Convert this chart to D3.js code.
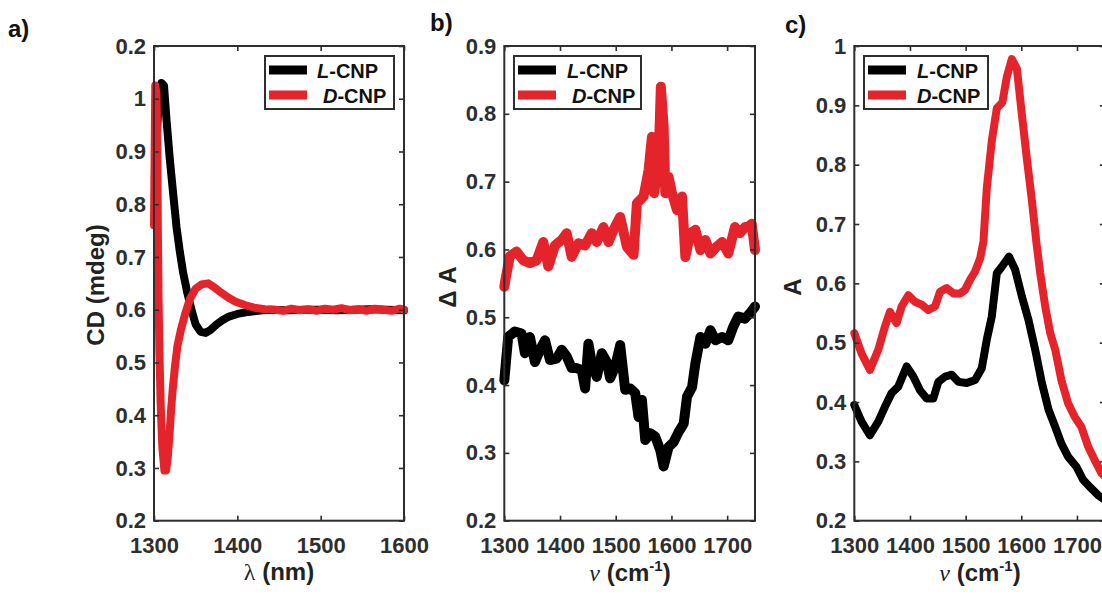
<!DOCTYPE html>
<html><head><meta charset="utf-8">
<script src="https://cdn.jsdelivr.net/npm/d3@7"></script>
<style>
body{margin:0;background:#fff;}
svg{display:block;font-family:"Liberation Sans",Arial,sans-serif;font-weight:bold;}
</style></head>
<body>
<svg id="chart" width="1102" height="595"></svg>
<script>
// ---------- Panel a data (CD) ----------
const aLx = [1301,1305,1309,1312,1315,1319,1323,1327,1331,1335,1340,1345,1350,1356,1362,1368,1375,1382,1390,1400,1410,1420,1430,1440,1460,1480,1500,1520,1540,1560,1580,1600];
const aLy = [0.85,0.98,1.03,1.025,0.96,0.885,0.82,0.757,0.71,0.67,0.632,0.6,0.572,0.558,0.556,0.562,0.572,0.58,0.587,0.592,0.595,0.597,0.599,0.6,0.599,0.6,0.6,0.599,0.6,0.601,0.6,0.599];
const aDx = [1300,1301.5,1303,1304,1304.6,1305.5,1306.5,1308,1310,1312.5,1314.5,1316.5,1318.5,1320.5,1322.5,1325,1328,1332,1337,1343,1350,1357,1365,1372,1380,1389,1398,1409,1420,1433,1445,1455,1465,1475,1485,1495,1505,1515,1525,1535,1545,1555,1565,1575,1585,1595,1600];
const aDy = [0.76,1.025,1.01,0.9,0.76,0.62,0.52,0.42,0.34,0.295,0.295,0.32,0.36,0.41,0.45,0.49,0.53,0.56,0.59,0.62,0.64,0.648,0.65,0.643,0.633,0.623,0.615,0.609,0.604,0.601,0.6,0.598,0.602,0.599,0.601,0.598,0.602,0.6,0.603,0.599,0.601,0.598,0.602,0.6,0.598,0.602,0.6];
const aXTicks = [1300,1400,1500,1600];
const aYTicks = [0.2,0.3,0.4,0.5,0.6,0.7,0.8,0.9,1.0,1.1];
const aYTickLabels = ["0.2","0.3","0.4","0.5","0.6","0.7","0.8","0.9","1","0.2"];

// ---------- Panel b data (ΔA) ----------
const bLx = [1300,1307,1319,1331,1337,1346,1355,1364,1373,1382,1394,1403,1412,1421,1430,1439,1445,1451,1457,1466,1475,1484,1490,1499,1508,1517,1526,1535,1541,1547,1553,1562,1571,1580,1586,1595,1604,1613,1622,1628,1637,1643,1652,1661,1670,1679,1691,1702,1711,1720,1732,1741,1750];
const bLy = [0.407,0.471,0.479,0.476,0.447,0.471,0.434,0.452,0.466,0.437,0.439,0.452,0.442,0.425,0.425,0.422,0.395,0.461,0.432,0.412,0.447,0.434,0.41,0.427,0.459,0.393,0.395,0.388,0.353,0.378,0.319,0.329,0.324,0.304,0.28,0.309,0.316,0.331,0.343,0.383,0.397,0.432,0.471,0.461,0.481,0.466,0.471,0.466,0.486,0.501,0.498,0.506,0.516];
const bDx = [1300,1303,1310,1322,1334,1346,1358,1370,1379,1391,1403,1412,1421,1433,1445,1457,1466,1478,1487,1496,1508,1520,1532,1538,1550,1559,1565,1569,1577,1581,1586,1589,1595,1601,1610,1619,1625,1634,1643,1652,1661,1670,1681,1691,1702,1714,1723,1732,1738,1744,1750];
const bDy = [0.545,0.56,0.59,0.597,0.584,0.58,0.584,0.611,0.575,0.606,0.614,0.624,0.589,0.609,0.606,0.624,0.611,0.633,0.611,0.629,0.648,0.604,0.592,0.668,0.678,0.717,0.766,0.683,0.732,0.84,0.781,0.683,0.707,0.683,0.658,0.678,0.589,0.624,0.629,0.599,0.614,0.594,0.604,0.611,0.594,0.633,0.624,0.633,0.633,0.638,0.599];
const bXTicks = [1300,1400,1500,1600,1700];
const bYTicks = [0.2,0.3,0.4,0.5,0.6,0.7,0.8,0.9];
const bYTickLabels = ["0.2","0.3","0.4","0.5","0.6","0.7","0.8","0.9"];

// ---------- Panel c data (A) ----------
const cLx = [1300,1313,1328,1343,1355,1367,1379,1394,1406,1418,1430,1442,1451,1463,1475,1487,1502,1517,1529,1538,1547,1556,1565,1578,1589,1601,1613,1625,1637,1649,1661,1672,1684,1699,1711,1723,1738,1750];
const cLy = [0.395,0.367,0.344,0.367,0.392,0.415,0.426,0.46,0.443,0.42,0.406,0.406,0.434,0.443,0.446,0.434,0.432,0.437,0.457,0.505,0.544,0.617,0.628,0.645,0.623,0.578,0.538,0.488,0.432,0.387,0.358,0.33,0.308,0.291,0.269,0.257,0.243,0.235];
const cDx = [1300,1313,1328,1343,1355,1364,1376,1385,1397,1409,1421,1433,1445,1454,1466,1478,1490,1499,1508,1517,1526,1532,1538,1547,1556,1566,1574,1583,1592,1601,1610,1619,1627,1634,1643,1652,1661,1672,1684,1696,1708,1720,1732,1744,1750];
const cDy = [0.516,0.482,0.454,0.488,0.527,0.552,0.533,0.561,0.58,0.569,0.564,0.555,0.561,0.586,0.592,0.583,0.583,0.589,0.606,0.62,0.642,0.67,0.76,0.84,0.895,0.905,0.948,0.978,0.962,0.885,0.81,0.74,0.67,0.617,0.561,0.516,0.488,0.437,0.398,0.375,0.358,0.325,0.302,0.28,0.275];
const cXTicks = [1300,1400,1500,1600,1700];
const cYTicks = [0.2,0.3,0.4,0.5,0.6,0.7,0.8,0.9,1.0];
const cYTickLabels = ["0.2","0.3","0.4","0.5","0.6","0.7","0.8","0.9","1"];

const COL_L = "#000000", COL_D = "#e5232a", AXC = "#2e2e2e";

const svg = d3.select("#chart");

function panel(cfg){
  const g = svg.append("g");
  const x = d3.scaleLinear().domain(cfg.xd).range([cfg.left, cfg.right]);
  const y = d3.scaleLinear().domain(cfg.yd).range([cfg.bottom, cfg.top]);
  const tickFont = 22;
  const line = d3.line().x(d=>x(d[0])).y(d=>y(d[1]));
  const clipId = "clip"+cfg.id;
  svg.append("clipPath").attr("id",clipId).append("rect")
     .attr("x",cfg.left-6).attr("y",cfg.top-20).attr("width",cfg.right-cfg.left+12).attr("height",cfg.bottom-cfg.top+40);
  const cg = g.append("g").attr("clip-path",`url(#${clipId})`);
  const sL = d3.zip(cfg.Lx, cfg.Ly), sD = d3.zip(cfg.Dx, cfg.Dy);
  cg.append("path").attr("d",line(sL)).attr("fill","none").attr("stroke",COL_L)
    .attr("stroke-width",cfg.lw).attr("stroke-linejoin","round").attr("stroke-linecap","round");
  cg.append("path").attr("d",line(sD)).attr("fill","none").attr("stroke",COL_D)
    .attr("stroke-width",cfg.lw).attr("stroke-linejoin","round").attr("stroke-linecap","round");

  const bottom = g.append("g").attr("transform",`translate(0,${cfg.bottom})`)
    .call(d3.axisBottom(x).tickValues(cfg.xt).tickFormat(d3.format("d")).tickSizeInner(-5).tickSizeOuter(0).tickPadding(17));
  const top = g.append("g").attr("transform",`translate(0,${cfg.top})`)
    .call(d3.axisTop(x).tickValues(cfg.xt).tickFormat("").tickSizeInner(-5).tickSizeOuter(0));
  const left = g.append("g").attr("transform",`translate(${cfg.left},0)`)
    .call(d3.axisLeft(y).tickValues(cfg.yt).tickFormat((d,i)=>cfg.ytl[i]).tickSizeInner(-5).tickSizeOuter(0).tickPadding(8));
  const right = g.append("g").attr("transform",`translate(${cfg.right},0)`)
    .call(d3.axisRight(y).tickValues(cfg.yt).tickFormat("").tickSizeInner(-5).tickSizeOuter(0));
  [bottom,top,left,right].forEach(a=>{
    a.select(".domain").remove();
    a.selectAll("line").attr("stroke",AXC).attr("stroke-width",1.6);
    a.selectAll("text").attr("fill",AXC).attr("font-size",tickFont).attr("font-weight","bold")
      .attr("font-family","'Liberation Sans',Arial,sans-serif");
  });
  g.append("rect").attr("x",cfg.left).attr("y",cfg.top).attr("width",cfg.right-cfg.left).attr("height",cfg.bottom-cfg.top)
    .attr("fill","none").attr("stroke",AXC).attr("stroke-width",2);

  const lg = cfg.leg;
  g.append("rect").attr("x",lg.x0).attr("y",56).attr("width",lg.x1-lg.x0).attr("height",53)
    .attr("fill","#fff").attr("stroke",AXC).attr("stroke-width",2);
  [[70,COL_L,"L",lg.tL],[95,COL_D,"D",lg.tD]].forEach(([yy,c,nm,tx])=>{
    g.append("line").attr("x1",lg.l0).attr("x2",lg.l0+38).attr("y1",yy).attr("y2",yy)
      .attr("stroke",c).attr("stroke-width",9);
    const t = g.append("text").attr("x",tx).attr("y",yy+8).attr("font-size",20).attr("fill","#111");
    t.append("tspan").attr("font-style","italic").text(nm);
    t.append("tspan").text("-CNP");
  });

  g.append("text").attr("x",cfg.px).attr("y",cfg.py).attr("font-size",24).attr("fill","#111").text(cfg.letter);
  return {x,y,g};
}

panel({id:"a",xd:[1300,1600],yd:[0.2,1.1],left:154,right:404,top:46,bottom:520.7,
  xt:aXTicks,yt:aYTicks,ytl:aYTickLabels,Lx:aLx,Ly:aLy,Dx:aDx,Dy:aDy,lw:8,
  leg:{x0:265,x1:394,l0:269,tL:317,tD:323},letter:"a)",px:8,py:37});
panel({id:"b",xd:[1300,1750],yd:[0.2,0.9],left:504.3,right:755,top:46,bottom:520.7,
  xt:bXTicks,yt:bYTicks,ytl:bYTickLabels,Lx:bLx,Ly:bLy,Dx:bDx,Dy:bDy,lw:10,
  leg:{x0:514,x1:641,l0:518,tL:567,tD:572},letter:"b)",px:430,py:31});
panel({id:"c",xd:[1300,1750],yd:[0.2,1.0],left:854.3,right:1104.8,top:46,bottom:520.7,
  xt:cXTicks,yt:cYTicks,ytl:cYTickLabels,Lx:cLx,Ly:cLy,Dx:cDx,Dy:cDy,lw:8,
  leg:{x0:864,x1:988,l0:868,tL:917,tD:917},letter:"c)",px:785,py:33});

function ylab(xc, yc, txt){
  svg.append("text").attr("transform",`translate(${xc},${yc}) rotate(-90)`)
    .attr("text-anchor","middle").attr("dy","0.36em").attr("font-size",24).attr("fill","#222").text(txt);
}
ylab(95,285,"CD (mdeg)");
ylab(447,287,"\u0394 A");
ylab(792,287,"A");

function xlabNu(xc){
  const t = svg.append("text").attr("x",xc).attr("y",581).attr("text-anchor","middle").attr("font-size",24).attr("fill","#222");
  t.append("tspan").attr("font-family","'Liberation Serif',serif").attr("font-style","italic").attr("font-weight","normal").text("\u03BD");
  t.append("tspan").text(" (cm");
  t.append("tspan").attr("dy",-10).attr("font-size",15).text("-1");
  t.append("tspan").attr("dy",10).text(")");
}
const tl = svg.append("text").attr("x",279).attr("y",580).attr("text-anchor","middle").attr("font-size",24).attr("fill","#222");
tl.append("tspan").attr("font-family","'Liberation Serif',serif").attr("font-weight","normal").text("\u03BB");
tl.append("tspan").text(" (nm)");
xlabNu(630);
xlabNu(980);
</script>
</body></html>
